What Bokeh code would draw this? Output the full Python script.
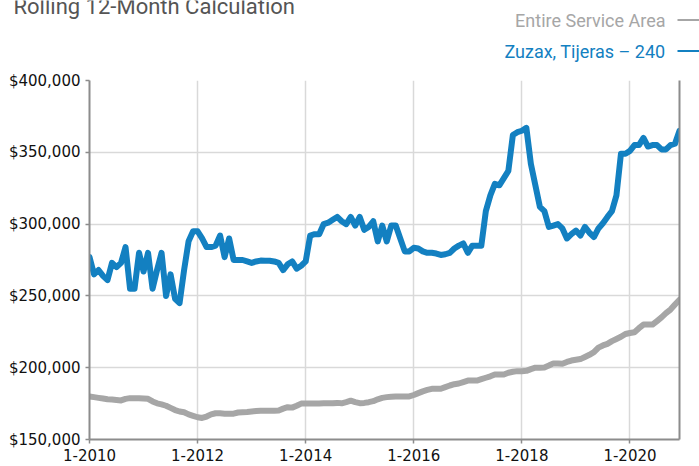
from bokeh.plotting import figure
from bokeh.layouts import column
from bokeh.models import Range1d, FixedTicker, NumeralTickFormatter, LinearAxis
from bokeh.core.properties import value
from bokeh.embed import file_html
from bokeh.resources import INLINE

# Monthly rolling 12-month median values, Jan 2010 .. Dec 2020
service_area = [
    180000, 179500, 179000, 178500, 178000, 177800, 177500, 177200, 178300, 178800,
    178800, 178700, 178500, 178300, 176500, 175200, 174500, 173500, 172000, 170500,
    169500, 169000, 167500, 166500, 165500, 165000, 166000, 167500, 168300, 168200,
    168000, 168000, 168000, 168800, 169000, 169200, 169500, 169800, 170000, 170000,
    170000, 170000, 170200, 171500, 172500, 172200, 173500, 175000, 175100, 175000,
    175000, 175000, 175200, 175300, 175300, 175500, 175200, 176000, 177000, 176000,
    175300, 175500, 176000, 176700, 178000, 179000, 179500, 179800, 180000, 180000,
    180000, 180000, 181000, 182300, 183500, 184500, 185300, 185300, 185300, 186500,
    187600, 188500, 189000, 190000, 191000, 191000, 191000, 192000, 193000, 194000,
    195300, 195300, 195300, 196500, 197200, 197600, 197600, 197800, 199000, 200000,
    200000, 200200, 201500, 203000, 203000, 202700, 204000, 205000, 205500, 206000,
    207500, 209000, 210800, 214000, 215500, 216600, 218500, 220000, 221500, 223500,
    224200, 224700, 227500, 230000, 230000, 230000, 232500, 235000, 238000, 240500,
    244000, 247300,
]
zuzax_tijeras = [
    277000, 265000, 268000, 264000, 261000, 273000, 270000, 273000, 284000, 255000,
    255000, 280000, 267000, 280000, 255000, 268000, 280000, 250000, 265000, 248000,
    245000, 268000, 288000, 295000, 295000, 290000, 284000, 284000, 285000, 292000,
    277000, 290000, 275000, 275000, 275000, 274000, 273000, 274000, 274600, 274500,
    274500, 274000, 273000, 268000, 272000, 274000, 269000, 271000, 274000, 292000,
    293000, 293000, 300000, 301000, 303000, 305000, 302000, 300000, 305000, 299000,
    305000, 296000, 298000, 302000, 288000, 299000, 288000, 299000, 299000, 290000,
    281000, 281000, 283500, 283000, 281000, 280000, 280000, 279500, 278500, 279000,
    280000, 283000, 285000, 286500, 280000, 285000, 285000, 285000, 309000, 320000,
    328000, 327000, 332000, 337000, 362000, 364000, 365000, 367000, 342000, 327000,
    312000, 309000, 298000, 299000, 300000, 297000, 290000, 293000, 295500, 292000,
    298000, 294000, 291000, 297000, 300600, 305000, 309000, 320000, 349000, 349000,
    351000, 355000, 355000, 360000, 354000, 355000, 355000, 352000, 352000, 355000,
    356000, 365000,
]
tick_labels = ["1-2010", "1-2012", "1-2014", "1-2016", "1-2018", "1-2020"]
y_ticks = [150000, 200000, 250000, 300000, 350000, 400000]
title_text = "Rolling 12-Month Calculation"
series_names = ["Entire Service Area", "Zuzax, Tijeras \u2013 240"]

GRAY = "#a6a6a6"
BLUE = "#1380c1"
AXIS = "#8c8c8c"
HEAD_FONT = "Roboto"

W = 699
HEADER_H = 70
MAIN_H = 466 - HEADER_H

# ---------- header (title + legend), pixel coordinates ----------
head = figure(width=W, height=HEADER_H, output_backend="svg", toolbar_location=None,
              x_range=Range1d(0, W), y_range=Range1d(HEADER_H, 0),
              x_axis_type=None, y_axis_type=None,
              min_border=0, min_border_left=0, min_border_right=0,
              min_border_top=0, min_border_bottom=0)
head.frame_align = False
head.outline_line_color = None
head.grid.visible = False
head.background_fill_color = "white"
head.border_fill_color = "white"

head.text(x=[13], y=[5.8], text=[title_text], text_font=value(HEAD_FONT),
          text_font_size=value("22px"), text_color="#555555",
          text_baseline="alphabetic", text_align="left")
legend_colors = [GRAY, BLUE]
legend_baselines = [19.8, 51.0]
head.text(x=[665, 665], y=legend_baselines, text=series_names, text_font=value(HEAD_FONT),
          text_font_size=value("18px"), text_color=legend_colors,
          text_baseline="alphabetic", text_align="right")
head.segment(x0=[677, 677], x1=[699, 699], y0=[19.5, 50.5], y1=[19.5, 50.5],
             line_color=legend_colors, line_width=2)

# ---------- main chart ----------
months = list(range(len(zuzax_tijeras)))
tick_pos = [24 * i for i in range(len(tick_labels))]

p = figure(width=W, height=MAIN_H, output_backend="svg", toolbar_location=None,
           x_range=Range1d(0, len(months) - 1), y_range=Range1d(y_ticks[0], y_ticks[-1]),
           min_border_left=89, min_border_right=20, min_border_top=10, min_border_bottom=27)
p.frame_align = False
p.outline_line_color = None
p.background_fill_color = "white"
p.border_fill_color = "white"

p.line(months, service_area, line_color=GRAY, line_width=6, line_join="round", line_cap="round")
p.line(months, zuzax_tijeras, line_color=BLUE, line_width=6, line_join="round", line_cap="round")

p.xaxis.ticker = FixedTicker(ticks=tick_pos)
p.xaxis.major_label_overrides = {t: l for t, l in zip(tick_pos, tick_labels)}
p.xgrid.ticker = FixedTicker(ticks=tick_pos)
p.yaxis.ticker = FixedTicker(ticks=y_ticks)
p.ygrid.ticker = FixedTicker(ticks=y_ticks)
p.yaxis.formatter = NumeralTickFormatter(format="$0,0")

for ax in (p.xaxis, p.yaxis):
    ax.axis_line_color = AXIS
    ax.axis_line_width = 2
    ax.major_tick_line_color = AXIS
    ax.major_tick_line_width = 1.5
    ax.major_tick_out = 4
    ax.major_tick_in = 0
    ax.minor_tick_line_color = None
    ax.major_label_text_font = "DejaVu Sans"
    ax.major_label_text_font_size = "15px"
    ax.major_label_text_color = "#111111"
    ax.major_label_standoff = 5

p.grid.grid_line_color = "#d9d9d9"
p.grid.grid_line_width = 1.5

right = LinearAxis(ticker=FixedTicker(ticks=[]), axis_line_color=AXIS, axis_line_width=2,
                   major_tick_out=0, major_tick_in=0, major_label_text_font_size="0px",
                   minor_tick_line_color=None)
p.add_layout(right, "right")

layout = column(head, p, spacing=0)
open("out.html", "w").write(file_html(layout, INLINE))
